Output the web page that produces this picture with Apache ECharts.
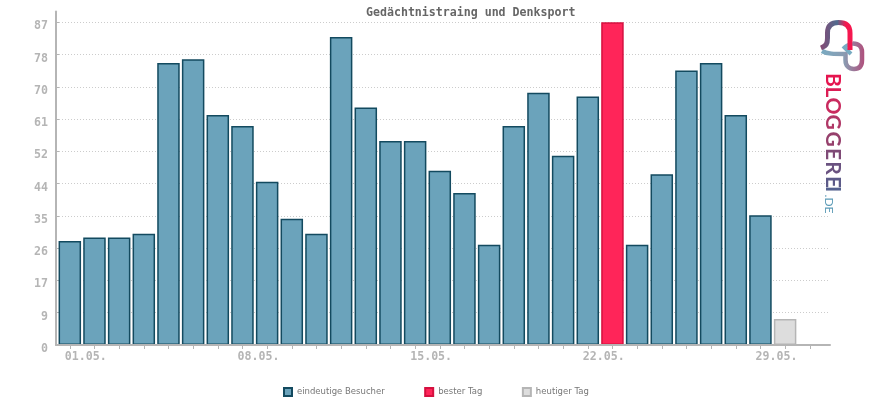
<!DOCTYPE html>
<html lang="en">
<head>
    <meta charset="utf-8">
    <title>Gedächtnistraing und Denksport</title>
    <script src="https://cdn.jsdelivr.net/npm/echarts@6/dist/echarts.min.js"></script>
    <style>
        html, body { margin: 0; padding: 0; background: #fff; }
        #chart { width: 870px; height: 400px; }
    </style>
</head>
<body>
<div id="chart"></div>
<script>
    var visitors = [28, 29, 29, 30, 76, 77, 62, 59, 44, 34, 30, 83, 64, 55, 55, 47, 41, 27, 59, 68, 51, 67, null, 27, 46, 74, 76, 62, 35];
    var bestDay = {index: 22, value: 87};
    var today = {index: 29, value: 7};
    var xLabels = {0: '01.05.', 7: '08.05.', 14: '15.05.', 21: '22.05.', 28: '29.05.'};

    var mono = '"DejaVu Sans Mono", monospace';
    var yTicks = [];
    for (var i = 0; i <= 10; i++) yTicks.push(Math.round(i * 8.7 * 10) / 10);
    var xTicks = [];
    for (var j = 0; j <= 30; j++) xTicks.push(j);

    function barSeries(name, data, fill, border) {
        return {
            name: name,
            type: 'bar',
            barWidth: 22.5,
            barGap: '-100%',
            z: 2,
            itemStyle: {color: fill, borderColor: border, borderWidth: 1.5, borderJoin: 'miter'},
            data: data
        };
    }

    // logo shapes
    echarts.graphic.registerShape('logoBell', echarts.graphic.extendPath('M821 48 C826 46 827.5 44 827.5 38 L827.5 33 C827.5 26 831 22.5 838.5 22.5 C846 22.5 850 26 850 33 L850 50'));
    echarts.graphic.registerShape('logoRing', echarts.graphic.extendPath('M822 51 C827 54 834 54 845.5 54 L845.5 60 C845.5 66 849 69 854 69 C859 69 862 66 862 60 L862 52 C862 47 859 43.5 853 43.5'));
    echarts.graphic.registerShape('logoHook', echarts.graphic.extendPath('M851 54 C848 51 846 49 844.5 47.5 C847 45 850 44 853 43.5'));

    // logo letters run down the right edge
    var logoText = 'BLOGGEREI';
    var logoColors = ['#e5154f', '#dc1d55', '#c92a5e', '#b03766', '#96406c', '#7f4a76', '#6a5280', '#5c5a88', '#55628f'];
    var logoY = [80, 92, 106, 122, 139, 154, 168, 182, 189];
    var logo = [
        {type: 'logoRing', z: 5, style: {fill: null, lineWidth: 4.5, stroke: new echarts.graphic.LinearGradient(0, 0, 1, 0, [{offset: 0, color: '#78abc2'}, {offset: 0.55, color: '#8a9cb2'}, {offset: 1, color: '#b04f7c'}])}},
        {type: 'logoHook', z: 5, style: {fill: null, lineWidth: 4, stroke: '#78abc2'}},
        {type: 'logoBell', z: 6, style: {fill: null, lineWidth: 5, stroke: new echarts.graphic.LinearGradient(0, 0, 1, 0, [{offset: 0, color: '#8d4672'}, {offset: 0.55, color: '#4f6a8e'}, {offset: 0.8, color: '#f5174f'}, {offset: 1, color: '#f5174f'}])}},
        {type: 'text', z: 5, x: 829, y: 204, rotation: -Math.PI / 2, style: {text: '.DE', fill: '#5f9db8', font: '12px Lato', textAlign: 'center', textVerticalAlign: 'middle'}}
    ];
    logoText.split('').forEach(function (ch, k) {
        logo.push({type: 'text', z: 5, x: 832.5, y: logoY[k], rotation: -Math.PI / 2,
            style: {text: ch, fill: logoColors[k], font: 'bold 21px Lato', textAlign: 'center', textVerticalAlign: 'middle'}});
    });

    var chart = echarts.init(document.getElementById('chart'), null, {renderer: 'canvas'});
    chart.setOption({
        animation: false,
        backgroundColor: '#fff',
        title: {
            text: 'Gedächtnistraing und Denksport',
            left: 366, top: 7, padding: 0,
            textStyle: {color: '#666', fontFamily: mono, fontSize: 11.6, fontWeight: 'bold'}
        },
        legend: {
            bottom: 3, left: 283, padding: 0,
            itemWidth: 8, itemHeight: 8, itemGap: 39.5,
            textStyle: {color: '#777', fontFamily: '"DejaVu Sans"', fontSize: 8.5},
            data: [
                {name: 'eindeutige Besucher', icon: 'rect'},
                {name: 'bester Tag', icon: 'rect'},
                {name: 'heutiger Tag', icon: 'rect'}
            ]
        },
        grid: {left: 56, right: 40, top: 11.5, bottom: 55},
        xAxis: {
            type: 'value', min: -0.56, max: 30.82, z: 3,
            splitLine: {show: false},
            axisLine: {show: true, lineStyle: {color: '#b5b5b5', width: 2}},
            axisTick: {show: true, length: 4, customValues: xTicks, lineStyle: {color: '#b5b5b5'}},
            axisLabel: {
                customValues: [0, 7, 14, 21, 28],
                margin: 6, padding: [0, 0, 0, 32],
                color: '#b5b5b5', fontFamily: mono, fontSize: 11.6, fontWeight: 'bold',
                formatter: function (v) { return xLabels[v] || ''; }
            }
        },
        yAxis: {
            type: 'value', min: 0, max: 89.89,
            axisLine: {show: true, onZero: false, lineStyle: {color: '#b5b5b5', width: 2}},
            axisTick: {show: true, inside: true, length: 3, customValues: yTicks, lineStyle: {color: '#b5b5b5'}},
            axisLabel: {
                customValues: yTicks,
                margin: 8, verticalAlign: 'top', lineHeight: 8,
                color: '#b5b5b5', fontFamily: mono, fontSize: 11.6, fontWeight: 'bold',
                formatter: function (v) { return String(Math.round(v)); }
            },
            splitLine: {show: true, customValues: yTicks, lineStyle: {color: '#cccccc', type: [1, 2], width: 1}}
        },
        series: [
            barSeries('eindeutige Besucher', visitors.map(function (v, i) { return [i, v]; }), '#6ba3bb', '#134a5f'),
            barSeries('bester Tag', [[bestDay.index, bestDay.value]], '#ff2559', '#d5103f'),
            barSeries('heutiger Tag', [[today.index, today.value]], '#dddddd', '#b5b5b5')
        ],
        graphic: logo
    });
</script>
</body>
</html>
